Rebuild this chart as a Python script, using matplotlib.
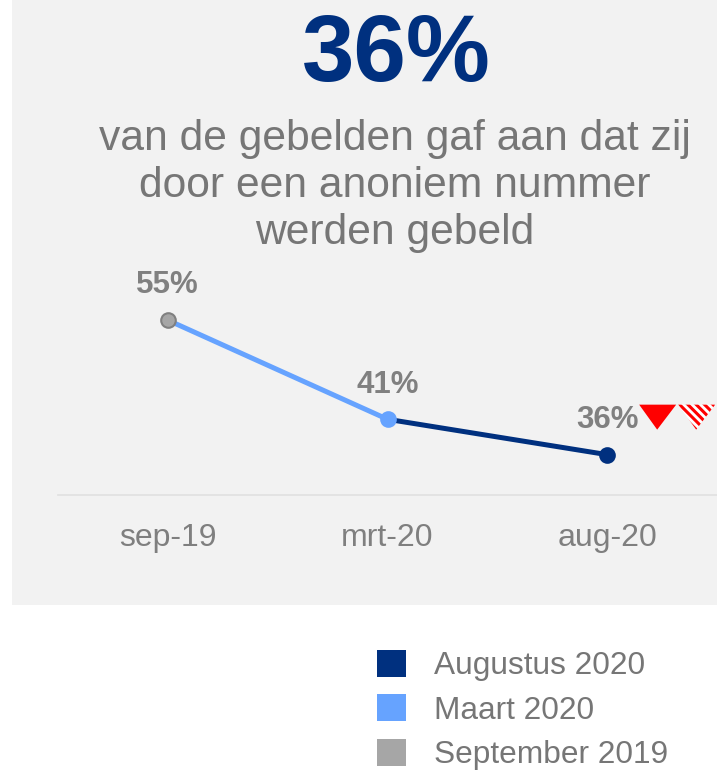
import matplotlib.pyplot as plt
from matplotlib.patches import Rectangle, Polygon, Patch
from matplotlib.transforms import IdentityTransform

plt.rcParams['font.family'] = ['Liberation Sans', 'DejaVu Sans']
plt.rcParams['hatch.linewidth'] = 2.2

# data
periods = ['sep-19', 'mrt-20', 'aug-20']
values = [55, 41, 36]
colors = ['#a6a6a6', '#66a3ff', '#00307f']
legend_labels = ['Augustus 2020', 'Maart 2020', 'September 2019']
headline = '36%'
subtitle = 'van de gebelden gaf aan dat zij\ndoor een anoniem nummer\nwerden gebeld'

W, H = 717, 771
fig = plt.figure(figsize=(W / 100, H / 100), dpi=100)
fig.patch.set_facecolor('white')

# grey panel
fig.add_artist(Rectangle((12 / W, 1 - 605 / H), 1 - 12 / W, 605 / H,
                         transform=fig.transFigure, facecolor='#f2f2f2',
                         edgecolor='none', zorder=0))

fig.text(396 / W, 1 - 57 / H, headline, ha='center', va='center',
         fontsize=68, fontweight='bold', color='#00307f')
fig.text(395 / W, 1 - 186 / H, subtitle, ha='center', va='center',
         fontsize=30.7, color='#767676', linespacing=1.21)

ax = fig.add_axes([58 / W, 1 - 495 / H, 659 / W, 235 / H])
ax.set_facecolor('none')
ax.set_xlim(-0.5, 2.5)
ax.set_ylim(30.3, 63.5)
x = list(range(len(periods)))

# line segments coloured by the later period
for i in range(1, len(x)):
    ax.plot(x[i - 1:i + 1], values[i - 1:i + 1], color=colors[i], lw=3.6,
            solid_capstyle='round', zorder=2)
for i in x:
    ax.plot(x[i], values[i], 'o', ms=10.5, color=colors[i],
            mec='#808080' if i == 0 else colors[i], mew=1.5, zorder=3)
    ax.annotate(f'{values[i]}%', (x[i], values[i]), xytext=(0, 25),
                textcoords='offset points', ha='center', va='center',
                fontsize=22.5, fontweight='bold', color='#808080')

# down arrows next to the latest value (offsets in pixels from the point)
px, py = ax.transData.transform((x[-1], values[-1]))
tri = [(32, 50), (69, 50), (50, 25)]
for k, hatch in enumerate([None, '\\\\\\\\']):
    dx = k * 39
    pts = [(px + a + dx, py + b) for a, b in tri]
    poly = Polygon(pts, closed=True, transform=IdentityTransform(),
                   facecolor='red' if hatch is None else 'white',
                   edgecolor='red', lw=0, hatch=hatch, zorder=4)
    fig.add_artist(poly)

ax.set_xticks(x)
ax.set_xticklabels(periods, fontsize=23, color='#7f7f7f')
ax.tick_params(axis='x', length=0, pad=20)
ax.set_yticks([])
for s in ['top', 'right', 'left']:
    ax.spines[s].set_visible(False)
ax.spines['bottom'].set_color('#e0e0e0')
ax.spines['bottom'].set_linewidth(1.2)

handles = [Patch(facecolor=c, edgecolor='none') for c in colors[::-1]]
fig.legend(handles, legend_labels, loc='upper left',
           bbox_to_anchor=(361 / W, 1 - 634 / H), frameon=False,
           fontsize=22.8, labelcolor='#767676', handlelength=0.92,
           handleheight=0.92, handletextpad=0.9, labelspacing=0.42,
           borderpad=0)

fig.savefig('out.png', dpi=100)
